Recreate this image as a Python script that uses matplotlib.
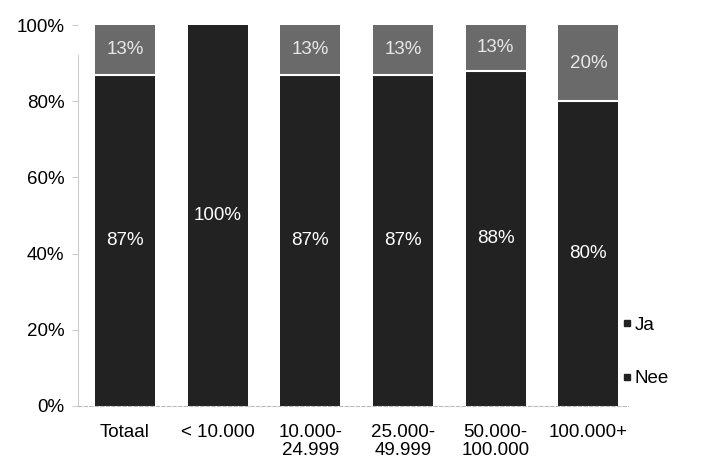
import numpy as np
import matplotlib.pyplot as plt
from matplotlib.lines import Line2D

plt.rcParams['font.family'] = ['Liberation Sans', 'DejaVu Sans']

categories = ['Totaal', '< 10.000', '10.000-\n24.999', '25.000-\n49.999',
              '50.000-\n100.000', '100.000+']
ja = [87, 100, 87, 87, 88, 80]
nee = [13, 0, 13, 13, 13, 20]

dark = '#222222'
grey = '#6a6a6a'
fs = 13.5

fig = plt.figure(figsize=(7.05, 4.59), dpi=100)
ax = fig.add_axes([0.111, 0.1155, 0.78, 0.83])

x = np.arange(len(categories))
ja_frac = np.array(ja) / 100
nee_frac = 1 - ja_frac
ax.bar(x, ja_frac, width=0.645, color=dark)
ax.bar(x, nee_frac, bottom=ja_frac, width=0.645, color=grey, linewidth=0)
# white separating line between segments
for xi, b, n in zip(x, ja_frac, nee):
    if n > 0:
        ax.plot([xi - 0.3225, xi + 0.3225], [b, b], color='white', lw=1.5)

for xi, v, n, b in zip(x, ja, nee, ja_frac):
    ax.text(xi, b / 2, f'{v}%', ha='center', va='center', color='white',
            fontsize=fs)
    if n > 0:
        ax.text(xi, b + (1 - b) / 2, f'{n}%', ha='center', va='center',
                color='#e8e8e8', fontsize=fs)

ax.set_xlim(-0.505, 5.43)
ax.set_ylim(0, 1)
ax.set_yticks(np.linspace(0, 1, 6))
ax.set_yticklabels([f'{int(t)}%' for t in np.linspace(0, 100, 6)], fontsize=fs)
ax.set_xticks(x)
ax.set_xticklabels(categories, fontsize=fs, linespacing=1.1)
ax.tick_params(axis='x', length=0, pad=13)
ax.tick_params(axis='y', length=4, color='#cccccc', pad=6)
for s in ['top', 'right']:
    ax.spines[s].set_visible(False)
ax.spines['left'].set_color('#cccccc')
ax.spines['left'].set_bounds(0, 0.92)
ax.spines['bottom'].set_color('#bbbbbb')
ax.spines['bottom'].set_linestyle((0, (3, 2)))

handles = [Line2D([], [], marker='s', ls='', color=dark, markersize=5),
           Line2D([], [], marker='s', ls='', color=dark, markersize=5)]
fig.legend(handles, ['Ja', 'Nee'], loc='center left',
           bbox_to_anchor=(0.855, 0.233), frameon=False, fontsize=fs,
           handletextpad=0.0, labelspacing=1.95, handlelength=0.8)

fig.savefig('out.png', dpi=100)
